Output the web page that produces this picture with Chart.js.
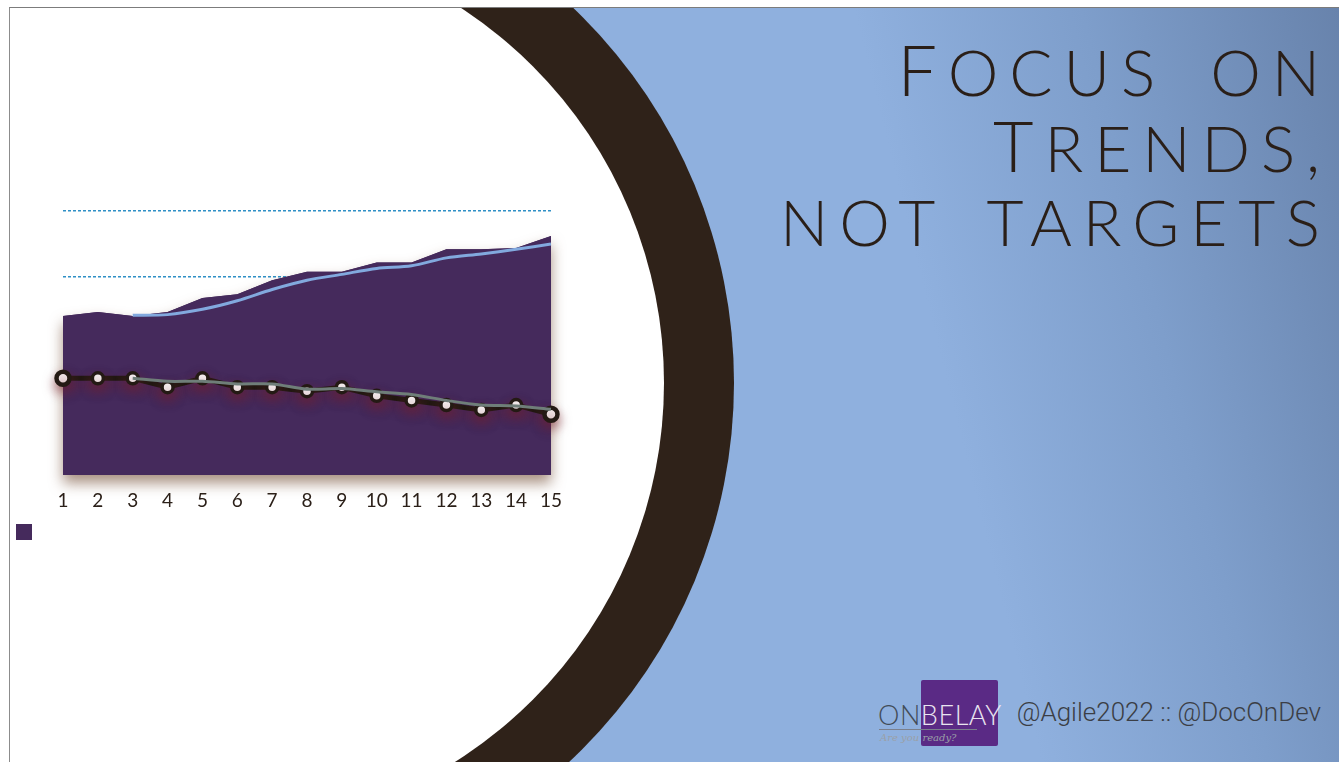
<!DOCTYPE html>
<html>
<head>
<meta charset="utf-8">
<script src="https://cdn.jsdelivr.net/npm/chart.js@4.4.0/dist/chart.umd.min.js"></script>
<style>
  html, body { margin: 0; padding: 0; background: #fff; }
  body { width: 1339px; height: 762px; position: relative; overflow: hidden; }
  .slide {
    position: absolute; left: 9px; top: 7px; width: 1330px; height: 755px;
    overflow: hidden;
    border-left: 1px solid #8c8c8c; border-top: 1px solid #7c7c7c;
    box-sizing: border-box;
    background: linear-gradient(76deg, #8fb0de 0%, #8fb0de 68%, #7e9ecb 83%, #6883ac 100%);
  }
  .ring, .hole { position: absolute; border-radius: 50%; }
  .ring { left: -312px; top: -143px; width: 1036px; height: 1036px; background: #2f2219; }
  .hole { left: -242px; top: -73px; width: 896px; height: 896px; background: #fff; }
  #wrap { position: absolute; left: 4px; top: 134px; width: 572px; height: 416px; }
  .title {
    position: absolute; right: 8px; color: #2a1f18;
    font-family: Lato, "Open Sans", sans-serif; font-weight: 300;
    font-size: 64px; letter-spacing: 0.17em; word-spacing: 16px;
    white-space: nowrap; line-height: 1; text-align: right;
  }
  .title .cap { font-size: 70px; }
  .logo { position: absolute; left: 876px; top: 678px; width: 130px; height: 72px; }
  .logo .sq { position: absolute; left: 45px; top: 2px; width: 77px; height: 66px; background: #5a2a85; border-radius: 2px; }
  .logo .word { position: absolute; left: 2px; top: 20px; font-family: Lato, sans-serif; font-weight: 300; font-size: 27px; letter-spacing: 0.02em; color: #424c58; }
  .logo .word b { font-weight: 300; color: #e9e4f0; }
  .logo .rule { position: absolute; left: 3px; top: 51px; width: 98px; height: 1px; background: #7a7f8c; }
  .logo .tag { position: absolute; left: 4px; top: 54px; font-family: "DejaVu Serif", serif; font-style: italic; font-size: 10px; color: #9aa0a8; }
  .handle { position: absolute; right: 18px; top: 697px; font-family: Roboto, "Liberation Sans", sans-serif; font-weight: 300; font-size: 26px; color: #3b3e45; }
</style>
</head>
<body>
<div class="slide">
  <div class="ring"></div>
  <div class="hole"></div>
</div>

<div id="wrap"><canvas id="grafico"></canvas></div>

<div class="title" style="top:34px"><span class="cap">F</span>OCUS ON</div>
<div class="title" style="top:110px"><span class="cap">T</span>RENDS,</div>
<div class="title" style="top:190px">NOT TARGETS</div>

<div class="logo">
  <div class="sq"></div>
  <div class="word">ON<b>BELAY</b></div>
  <div class="rule"></div>
  <div class="tag">Are you ready?</div>
</div>
<div class="handle">@Agile2022 :: @DocOnDev</div>

<script>
// iteration numbers along the bottom axis
const iteracoes = ['1', '2', '3', '4', '5', '6', '7', '8', '9', '10', '11', '12', '13', '14', '15'];

// purple area (total)
const totalArea = [24.1, 24.7, 24.1, 24.7, 26.8, 27.4, 29.5, 30.8, 30.8, 32.2, 32.2, 34.2, 34.2, 34.4, 36.2];
// rolling trend over the area
const tendenciaArea = [null, null, 24.2, 24.3, 25.1, 26.4, 28.1, 29.5, 30.4, 31.3, 31.7, 32.9, 33.5, 34.2, 35.0];

// measured line with markers
const medida = [14.65, 14.65, 14.65, 13.3, 14.65, 13.3, 13.3, 12.7, 13.3, 12.0, 11.3, 10.6, 9.85, 10.6, 9.2];
// rolling trend over the measured line
const tendenciaMedida = [null, null, 14.65, 14.2, 14.2, 13.8, 13.8, 13.0, 13.1, 12.6, 12.2, 11.3, 10.6, 10.45, 9.95];

// y gridlines that stay visible as dotted guides
const linhasGuia = [30, 40];

// soft shadows: the filler clips the fill to the chart area, so the area's
// shadow is painted first from its own points; lines get it per dataset
const sombraPlugin = {
    id: 'sombra',
    beforeDatasetsDraw(chart) {
        const ds = chart.data.datasets[0];
        const pts = chart.getDatasetMeta(0).data;
        const base = chart.scales.y.getPixelForValue(0);
        const ctx = chart.ctx;
        ctx.save();
        ctx.shadowColor = ds.sombra.cor;
        ctx.shadowBlur = ds.sombra.blur;
        ctx.shadowOffsetY = ds.sombra.y;
        ctx.fillStyle = ds.backgroundColor;
        ctx.beginPath();
        ctx.moveTo(pts[0].x, base);
        pts.forEach(p => ctx.lineTo(p.x, p.y));
        ctx.lineTo(pts[pts.length - 1].x, base);
        ctx.closePath();
        ctx.fill();
        ctx.restore();
    },
    beforeDatasetDraw(chart, args) {
        const s = args.index > 0 && chart.data.datasets[args.index].sombra;
        if (!s) return;
        const ctx = chart.ctx;
        ctx.save();
        ctx.shadowColor = s.cor;
        ctx.shadowBlur = s.blur;
        ctx.shadowOffsetY = s.y;
    },
    afterDatasetDraw(chart, args) {
        if (args.index > 0 && chart.data.datasets[args.index].sombra) chart.ctx.restore();
    }
};

const grafico = document.getElementById('grafico').getContext('2d');
const ultimo = iteracoes.length - 1;
const ponta = ctx => ctx.dataIndex === 0 || ctx.dataIndex === ultimo;

const myChart = new Chart(grafico, {
    type: 'line',
    data: {
        labels: iteracoes,
        datasets: [{
            label: '',
            data: totalArea,
            backgroundColor: '#452a5c',
            borderColor: '#452a5c',
            borderWidth: 0,
            pointRadius: 0,
            fill: 'origin',
            tension: 0,
            order: 4,
            sombra: { cor: 'rgba(110, 70, 45, 0.6)', blur: 14, y: 8 }
        }, {
            label: 'tendência total',
            data: tendenciaArea,
            borderColor: '#82a9de',
            borderWidth: 3,
            pointRadius: 0,
            fill: false,
            tension: 0.3,
            order: 3
        }, {
            label: 'medida',
            data: medida,
            borderColor: '#241a14',
            borderWidth: 5,
            backgroundColor: '#ffffff',
            pointBorderColor: '#241a14',
            pointBackgroundColor: '#ffffff',
            pointBorderWidth: ctx => ponta(ctx) ? 4.5 : 3.5,
            pointRadius: ctx => ponta(ctx) ? 6.5 : 5.5,
            fill: false,
            tension: 0,
            clip: false,
            order: 2,
            sombra: { cor: 'rgba(120, 30, 40, 0.5)', blur: 12, y: 6 }
        }, {
            label: 'tendência medida',
            data: tendenciaMedida,
            borderColor: '#6f7e79',
            borderWidth: 3,
            pointRadius: 0,
            fill: false,
            tension: 0.3,
            order: 1
        }]
    },
    options: {
        responsive: true,
        maintainAspectRatio: false,
        animation: false,
        layout: { padding: { top: 10, right: 25 } },
        plugins: {
            tooltip: { enabled: false },
            legend: {
                position: 'bottom',
                align: 'start',
                labels: {
                    boxWidth: 16,
                    boxHeight: 16,
                    padding: 12,
                    filter: item => item.datasetIndex === 0
                }
            }
        },
        scales: {
            x: {
                offset: false,
                grid: { display: false, drawTicks: false },
                border: { display: false },
                ticks: {
                    color: '#2b2019',
                    padding: 14,
                    autoSkip: false,
                    maxRotation: 0,
                    font: { family: 'Lato', size: 19 }
                },
                afterFit: scale => { scale.height = 37; }
            },
            y: {
                min: 0,
                max: 50,
                ticks: { display: false, stepSize: 10 },
                grid: {
                    drawTicks: false,
                    lineWidth: 1.5,
                    color: ctx => linhasGuia.includes(ctx.tick.value) ? '#2f90c6' : 'rgba(0,0,0,0)'
                },
                border: { display: false, dash: [3, 2] },
                afterFit: scale => { scale.width = 59; }
            }
        }
    },
    plugins: [sombraPlugin]
});
</script>
</body>
</html>
